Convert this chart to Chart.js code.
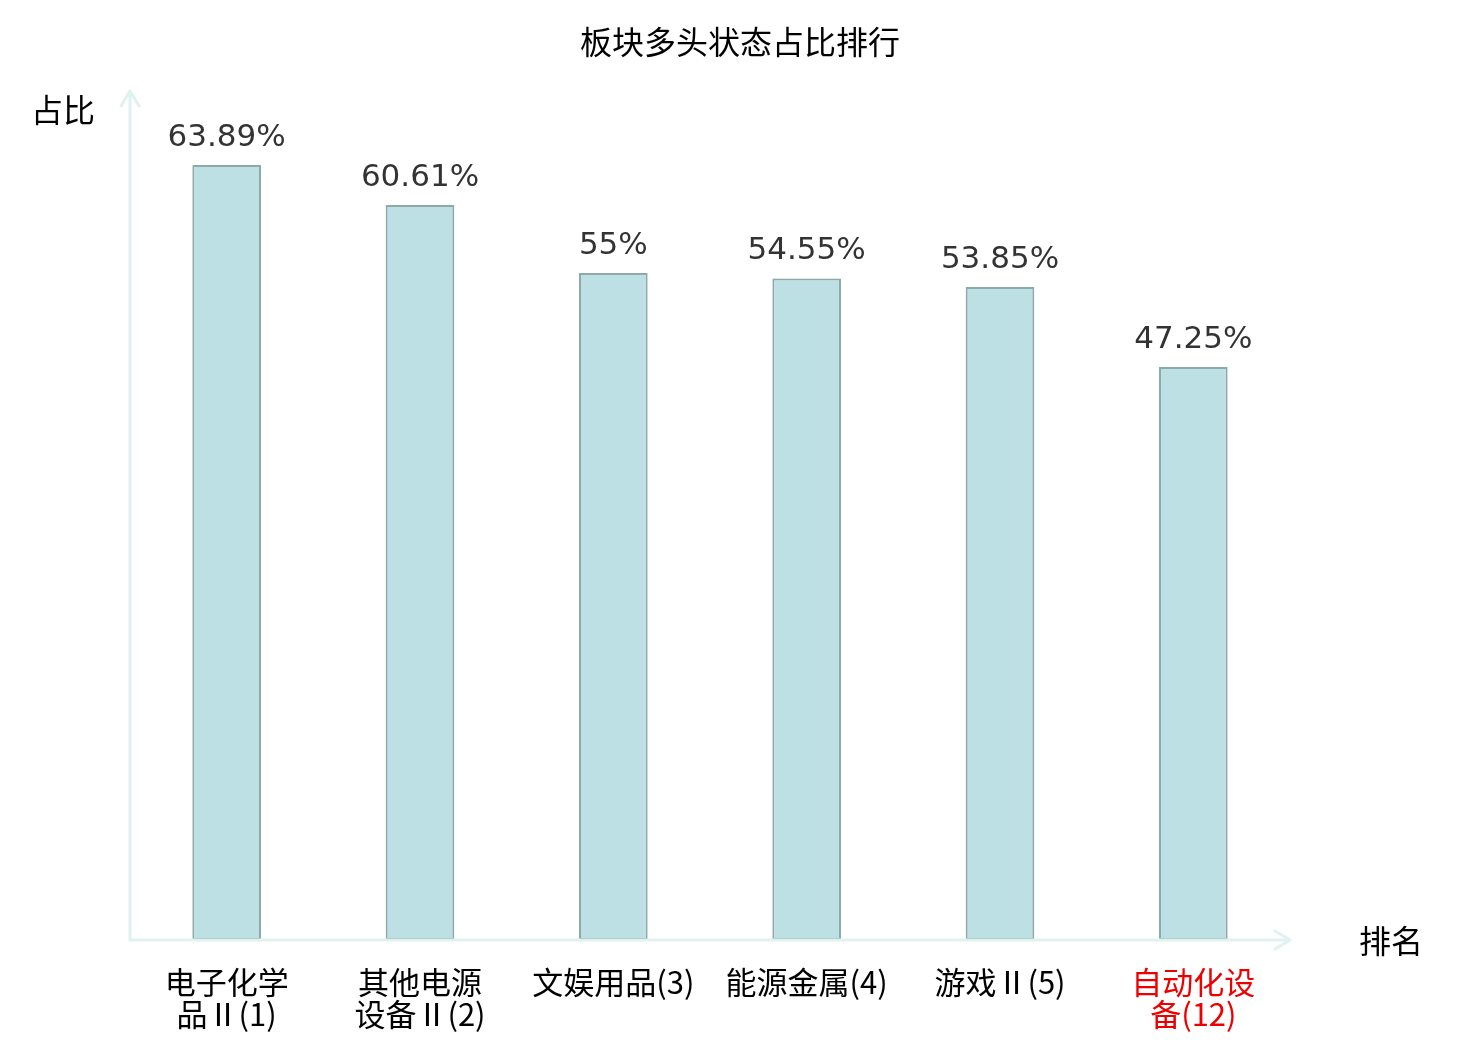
<!DOCTYPE html>
<html>
<head>
<meta charset="utf-8">
<script src="https://cdn.jsdelivr.net/npm/chart.js@4.4.1/dist/chart.umd.min.js"></script>
<style>
  html, body { margin: 0; padding: 0; background: #ffffff; }
  #wrap { width: 1480px; height: 1040px; }
</style>
</head>
<body>
<div id="wrap"><canvas id="rankChart" width="1480" height="1040"></canvas></div>
<script>
// 板块多头状态占比排行
const chartTitle = '板块多头状态占比排行';
const yAxisName = '占比';
const xAxisName = '排名';

const sectorNames = [
    ['电子化学', '品Ⅱ(1)'],
    ['其他电源', '设备Ⅱ(2)'],
    '文娱用品(3)',
    '能源金属(4)',
    '游戏Ⅱ(5)',
    ['自动化设', '备(12)']
];
const bullRatio = [63.89, 60.61, 55, 54.55, 53.85, 47.25];
const highlightIndex = 5; // 当前板块红色显示

const yMin = 0;
const yMax = 70;

const cjkFont = '"Noto Sans CJK SC", "DejaVu Sans", sans-serif';
const numFont = '"DejaVu Sans", "Noto Sans CJK SC", sans-serif';
const axisColor = '#dff2ef';

// 坐标轴箭头、轴名、标题、数值标签
const decorPlugin = {
    id: 'decor',
    afterDraw(chart) {
        const ctx = chart.ctx;
        const area = chart.chartArea;
        const ys = chart.scales.y;
        const x0 = area.left;
        const y0 = ys.getPixelForValue(yMin);
        const yTop = ys.getPixelForValue(yMax);
        const xEnd = area.right;

        ctx.save();
        ctx.strokeStyle = axisColor;
        ctx.lineWidth = 3;
        ctx.lineCap = 'round';
        ctx.lineJoin = 'round';
        // y 轴
        ctx.beginPath();
        ctx.moveTo(x0, y0);
        ctx.lineTo(x0, yTop);
        ctx.moveTo(x0 - 9, yTop + 15);
        ctx.lineTo(x0, yTop);
        ctx.lineTo(x0 + 9, yTop + 15);
        ctx.stroke();
        // x 轴
        ctx.beginPath();
        ctx.moveTo(x0, y0);
        ctx.lineTo(xEnd, y0);
        ctx.moveTo(xEnd - 15, y0 - 9);
        ctx.lineTo(xEnd, y0);
        ctx.lineTo(xEnd - 15, y0 + 9);
        ctx.stroke();

        // 标题
        ctx.fillStyle = '#000000';
        ctx.textAlign = 'center';
        ctx.textBaseline = 'middle';
        ctx.font = '32px ' + cjkFont;
        ctx.fillText(chartTitle, 740, 42);

        // 轴名
        ctx.fillText(yAxisName, 63, 110);
        ctx.fillText(xAxisName, 1391, 941);

        // 数值标签
        ctx.fillStyle = '#333333';
        ctx.font = '31px ' + numFont;
        ctx.textBaseline = 'alphabetic';
        const meta = chart.getDatasetMeta(0);
        meta.data.forEach(function(bar, i) {
            ctx.fillText(bullRatio[i] + '%', bar.x, bar.y - 19);
        });
        ctx.restore();
    }
};

new Chart(document.getElementById('rankChart'), {
    type: 'bar',
    data: {
        labels: sectorNames,
        datasets: [{
            data: bullRatio,
            backgroundColor: '#bce0e3',
            borderColor: '#8ea9a9',
            borderWidth: 2,
            borderSkipped: false,
            barPercentage: 0.355,
            categoryPercentage: 1
        }]
    },
    options: {
        responsive: false,
        animation: false,
        layout: {
            padding: { left: 130, right: 190, top: 91, bottom: 0 }
        },
        plugins: {
            legend: { display: false },
            tooltip: { enabled: false },
            title: { display: false }
        },
        scales: {
            x: {
                grid: { display: false, drawTicks: false },
                border: { display: false },
                ticks: {
                    padding: 26,
                    maxRotation: 0,
                    autoSkip: false,
                    font: { family: cjkFont, size: 31, lineHeight: 1.04 },
                    color: function(c) {
                        return c.index === highlightIndex ? '#ee0000' : '#000000';
                    }
                },
                afterFit: function(scale) {
                    scale.height = 100;
                }
            },
            y: {
                display: false,
                min: yMin,
                max: yMax
            }
        }
    },
    plugins: [decorPlugin]
});
</script>
</body>
</html>
